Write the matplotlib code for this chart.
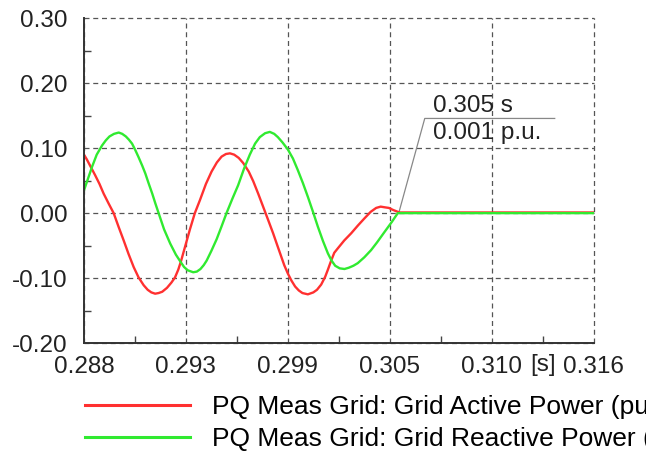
import matplotlib
matplotlib.use("Agg")
import matplotlib.pyplot as plt
from matplotlib.ticker import FixedLocator, FixedFormatter
from matplotlib.lines import Line2D
import matplotlib.transforms as mtransforms

plt.rcParams['font.family'] = ['Liberation Sans', 'DejaVu Sans']

# values
active_t = [0.28800, 0.28815, 0.28830, 0.28862, 0.28885, 0.28908, 0.28935, 0.28963, 0.28990,
            0.29018, 0.29045, 0.29073, 0.29100, 0.29128, 0.29150, 0.29170, 0.29191, 0.29210,
            0.29230, 0.29256, 0.29280, 0.29300, 0.29318, 0.29333, 0.29360, 0.29382, 0.29409,
            0.29437, 0.29470, 0.29501, 0.29530, 0.29556, 0.29580, 0.29602, 0.29625, 0.29650,
            0.29675, 0.29705, 0.29730, 0.29757, 0.29784, 0.29811, 0.29839, 0.29860, 0.29880,
            0.29900, 0.29920, 0.29940, 0.29960, 0.29980, 0.30000, 0.30030, 0.30060, 0.30080,
            0.30103, 0.30125, 0.30140, 0.30158, 0.30175, 0.30195, 0.30230, 0.30268, 0.30305,
            0.30341, 0.30375, 0.30405, 0.30430, 0.30451, 0.30475, 0.30497, 0.30515, 0.30533,
            0.31600]
active_p = [0.090, 0.083, 0.075, 0.058, 0.045, 0.030, 0.015, 0.000, -0.021,
            -0.042, -0.063, -0.083, -0.099, -0.111, -0.118, -0.122, -0.124, -0.123,
            -0.121, -0.115, -0.107, -0.099, -0.087, -0.074, -0.047, -0.025, 0.000,
            0.020, 0.045, 0.064, 0.078, 0.087, 0.091, 0.092, 0.090, 0.085,
            0.077, 0.064, 0.049, 0.030, 0.010, -0.010, -0.031, -0.048, -0.064,
            -0.080, -0.093, -0.104, -0.113, -0.119, -0.123, -0.125, -0.122, -0.118,
            -0.110, -0.098, -0.087, -0.073, -0.061, -0.054, -0.042, -0.031, -0.019,
            -0.008, 0.002, 0.008, 0.010, 0.009, 0.008, 0.005, 0.003, 0.001,
            0.001]

reactive_t = [0.28800, 0.28822, 0.28844, 0.28870, 0.28899, 0.28920, 0.28940, 0.28965, 0.28991,
              0.29010, 0.29030, 0.29047, 0.29064, 0.29082, 0.29100, 0.29120, 0.29137, 0.29155,
              0.29175, 0.29192, 0.29210, 0.29240, 0.29274, 0.29305, 0.29333, 0.29350, 0.29370,
              0.29400, 0.29420, 0.29440, 0.29458, 0.29474, 0.29500, 0.29529, 0.29555, 0.29583,
              0.29615, 0.29647, 0.29680, 0.29711, 0.29740, 0.29766, 0.29795, 0.29821, 0.29845,
              0.29865, 0.29890, 0.29920, 0.29948, 0.29975, 0.30003, 0.30030, 0.30058, 0.30085,
              0.30113, 0.30140, 0.30160, 0.30180, 0.30205, 0.30231, 0.30255, 0.30280, 0.30304,
              0.30340, 0.30377, 0.30410, 0.30451, 0.30490, 0.30524, 0.31600]
reactive_q = [0.035, 0.053, 0.071, 0.090, 0.104, 0.112, 0.118, 0.122, 0.124,
              0.122, 0.118, 0.113, 0.107, 0.097, 0.086, 0.073, 0.061, 0.046,
              0.030, 0.015, 0.000, -0.025, -0.047, -0.064, -0.076, -0.083, -0.088,
              -0.091, -0.090, -0.086, -0.080, -0.073, -0.058, -0.040, -0.021, 0.000,
              0.022, 0.043, 0.069, 0.090, 0.107, 0.117, 0.123, 0.125, 0.122,
              0.117, 0.109, 0.098, 0.084, 0.066, 0.046, 0.025, 0.002, -0.021,
              -0.043, -0.062, -0.073, -0.081, -0.085, -0.086, -0.084, -0.081, -0.077,
              -0.068, -0.057, -0.045, -0.029, -0.014, 0.000, 0.000]

series_labels = ["PQ Meas Grid: Grid Active Power (pu)",
                 "PQ Meas Grid: Grid Reactive Power (pu)"]

x_ticks = [0.288, 0.2936, 0.2992, 0.3048, 0.3104, 0.316]
x_tick_labels = ["0.288", "0.293", "0.299", "0.305", "0.310", "0.316"]
y_ticks = [-0.20, -0.10, 0.00, 0.10, 0.20, 0.30]
y_tick_labels = ["-0.20", "-0.10", "0.00", "0.10", "0.20", "0.30"]

cursor_t = 0.305
cursor_v = 0.001

FS = 17.5
RED = '#ff3030'
GREEN = '#30ea30'
TXT = '#222222'

fig = plt.figure(figsize=(6.46, 4.55), dpi=100)
ax = fig.add_axes([0.130, 0.246, 0.789, 0.714])

ax.plot(active_t, active_p, color=RED, lw=1.7, solid_joinstyle='round', label=series_labels[0])
ax.plot(reactive_t, reactive_q, color=GREEN, lw=1.7, solid_joinstyle='round', label=series_labels[1])

ax.set_xlim(x_ticks[0], x_ticks[-1])
ax.set_ylim(y_ticks[0], y_ticks[-1])

ax.xaxis.set_major_locator(FixedLocator(x_ticks))
ax.xaxis.set_major_formatter(FixedFormatter(x_tick_labels))
ax.yaxis.set_major_locator(FixedLocator(y_ticks))
ax.yaxis.set_major_formatter(FixedFormatter(y_tick_labels))
ax.xaxis.set_minor_locator(FixedLocator([(a + b) / 2 for a, b in zip(x_ticks[:-1], x_ticks[1:])]))
ax.yaxis.set_minor_locator(FixedLocator([(a + b) / 2 for a, b in zip(y_ticks[:-1], y_ticks[1:])]))

ax.tick_params(which='major', length=0, labelsize=FS, colors=TXT)
ax.tick_params(axis='y', which='major', pad=12)
ax.tick_params(axis='x', which='major', pad=9)
ax.tick_params(which='minor', direction='in', length=5, width=1, color='#444444')

ax.grid(True, which='major', color='#555555', linestyle=(0, (4, 3)), lw=0.9)
for gl in ax.get_xgridlines() + ax.get_ygridlines():
    gl.set_clip_on(False)
ax.set_axisbelow(True)

for side in ['top', 'right']:
    ax.spines[side].set_visible(False)
for side in ['left', 'bottom']:
    ax.spines[side].set_color('#333333')
    ax.spines[side].set_linewidth(1.4)

# unit label between the last two x ticks
trans = mtransforms.blended_transform_factory(ax.transData, ax.transAxes)
ax.text(0.3132, -0.035, "[s]", transform=trans, ha='center', va='top', fontsize=FS, color=TXT)

# cursor annotation
ax.plot([cursor_t + 0.0003, 0.30672, 0.31386], [cursor_v, 0.1457, 0.1457],
        color='#888888', lw=0.9, zorder=1)
ax.text(0.30716, 0.1480, f"{cursor_t:.3f} s", fontsize=FS, color=TXT, ha='left', va='bottom')
ax.text(0.30716, 0.1400, f"{cursor_v:.3f} p.u.", fontsize=FS, color=TXT, ha='left', va='top')

handles = [Line2D([], [], color=RED, lw=2.2), Line2D([], [], color=GREEN, lw=2.2)]
fig.legend(handles, series_labels, loc='upper left', bbox_to_anchor=(0.1315, 0.132),
           frameon=False, fontsize=19, handlelength=3.98, handletextpad=0.83,
           labelspacing=0.30, borderpad=0, borderaxespad=0)

fig.savefig("out.png", dpi=100)
